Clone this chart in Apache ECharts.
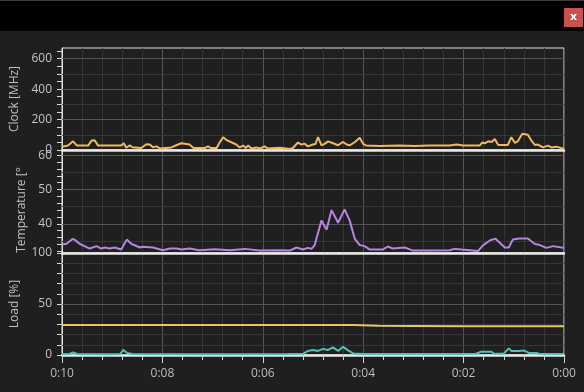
<!DOCTYPE html>
<html>
<head>
<meta charset="utf-8">
<script src="https://cdn.jsdelivr.net/npm/echarts@6/dist/echarts.min.js"></script>
<style>
html,body{margin:0;padding:0;background:#1f1f1f;}
#chart{width:584px;height:392px;}
</style>
</head>
<body>
<div id="chart"></div>
<script>
// ---- data (time in minutes before now) ----
const xTickLabels = ['0:10', '0:08', '0:06', '0:04', '0:02', '0:00'];

const clockTimes = [10.00,9.88,9.78,9.70,9.48,9.41,9.35,9.28,8.82,8.77,8.72,8.65,8.60,8.42,8.32,8.25,8.19,8.12,8.05,7.82,7.69,7.62,7.46,7.38,7.16,7.09,7.04,6.92,6.86,6.79,6.73,6.53,6.46,6.39,6.34,6.29,6.23,6.13,6.06,5.96,5.90,5.66,5.46,5.40,5.30,5.23,5.17,5.10,5.00,4.95,4.90,4.83,4.77,4.70,4.60,4.50,4.40,4.33,4.27,4.17,4.07,4.00,3.94,3.67,3.27,2.97,2.68,2.28,2.14,2.01,1.68,1.63,1.58,1.51,1.44,1.38,1.31,1.12,1.05,0.98,0.92,0.83,0.72,0.65,0.58,0.52,0.42,0.32,0.25,0.15,0.03,0.00];
const clockValues = [22,29,57,29,29,62,64,29,29,44,15,30,18,13,38,36,18,24,10,17,36,44,36,13,13,24,13,13,49,84,67,36,17,29,13,29,10,17,10,24,10,15,7,13,49,35,42,24,36,40,84,31,40,57,44,31,53,36,31,51,80,40,29,27,29,27,29,29,36,29,29,49,44,57,53,73,33,33,84,47,57,107,100,62,33,36,17,29,17,22,10,12];

const tempTimes = [10.00,9.91,9.79,9.75,9.65,9.45,9.31,9.22,9.15,9.05,8.95,8.82,8.71,8.62,8.45,8.39,8.19,7.99,7.85,7.72,7.62,7.46,7.26,6.96,6.66,6.36,6.06,5.66,5.46,5.33,5.20,5.10,5.03,4.97,4.83,4.73,4.63,4.50,4.37,4.27,4.17,4.07,3.97,3.87,3.61,3.51,3.41,3.17,3.01,2.68,2.28,2.18,2.04,1.71,1.61,1.47,1.37,1.28,1.18,1.10,1.02,0.89,0.72,0.58,0.48,0.35,0.22,0.02,0.00];
const tempValues = [34.0,34.2,35.6,35.4,34.2,32.8,33.5,32.8,33.1,32.8,33.1,32.5,35.4,34.2,33.1,33.3,33.1,32.3,32.8,32.8,32.5,32.8,32.3,32.6,32.3,32.7,32.2,32.3,32.2,33.1,32.5,33.0,32.7,33.7,41.0,38.3,44.0,40.3,44.2,41.0,35.7,33.8,33.5,32.5,32.5,33.4,32.8,33.1,32.2,32.2,32.3,32.7,32.5,32.1,33.8,35.2,35.7,34.5,33.1,33.1,35.4,35.7,35.7,34.1,33.8,33.0,33.5,33.0,33.0];

const loadATimes = [10.0,9.0,8.0,7.0,6.0,5.0,4.2,3.7,3.0,2.0,1.0,0.0];
const loadAValues = [29.5,29.4,29.4,29.3,29.3,29.4,29.5,28.6,28.4,28.1,28.2,28.2];

const loadBTimes = [10.0,9.85,9.78,9.70,9.0,8.84,8.78,8.70,8.60,7.0,5.5,5.2,5.1,5.0,4.9,4.8,4.7,4.6,4.5,4.4,4.3,4.2,4.0,2.0,1.75,1.65,1.55,1.45,1.40,1.20,1.10,1.05,0.90,0.80,0.70,0.55,0.50,0.0];
const loadBValues = [1.0,1.0,2.5,1.0,0.8,1.0,5.0,2.0,1.0,0.8,1.0,1.2,4.0,5.0,4.0,6.0,5.0,7.5,4.0,8.0,4.5,1.5,1.0,1.0,1.2,3.3,3.3,3.3,1.5,1.3,6.5,4.0,4.0,4.5,2.0,2.0,1.2,1.0];

// axis values
const clockRange = [0, 670], clockLabels = [0, 200, 400, 600];
const clockTicks = [0,50,100,150,200,250,300,350,400,450,500,550,600,650];
const clockGridMinor = [100, 300, 500], clockGridMajor = [200, 400, 600];
const tempRange = [31.5, 61.5], tempLabels = [40, 50, 60];
const tempTicks = [32,34,36,38,40,42,44,46,48,50,52,54,56,58,60];
const tempGridMinor = [35, 45, 55], tempGridMajor = [40, 50, 60];
const loadRange = [0, 100], loadLabels = [0, 50, 100];
const loadTicks = [0,10,20,30,40,50,60,70,80,90,100];
const loadGridMinor = [10,20,30,40,60,70,80,90], loadGridMajor = [50];

// ---- chart ----
const FONT = 'Open Sans';
const MINOR_GRID = '#363636', MAJOR_GRID = '#555555';
const pairs = (t, v) => t.map((x, i) => [x, v[i]]);
const chart = echarts.init(document.getElementById('chart'), null, {renderer: 'canvas'});

const grids = [
  {left: 62, top: 48, width: 502, height: 102},
  {left: 62, top: 150, width: 502, height: 103},
  {left: 62, top: 253, width: 502, height: 102}
].map(g => Object.assign(g, {show: true, borderColor: '#e2e2e2', borderWidth: 1, backgroundColor: 'transparent', containLabel: false}));

const xAxes = [0, 1, 2].map(i => ({
  type: 'value', gridIndex: i, min: 0, max: 10, interval: 2, inverse: true,
  axisLine: {show: true, onZero: false, lineStyle: {color: '#e8e8e8', width: 2.5}},
  axisTick: {show: i === 2, length: 8, lineStyle: {color: '#d4d4d4', width: 1}},
  minorTick: {show: i === 2, splitNumber: 5, length: 5, lineStyle: {color: '#d4d4d4', width: 1}},
  axisLabel: {show: i === 2, color: '#bdbdbd', fontSize: 12, fontFamily: FONT, margin: 13,
    formatter: v => xTickLabels[5 - Math.round(v / 2)]},
  splitLine: {show: true, lineStyle: {color: MAJOR_GRID, width: 1}},
  minorSplitLine: {show: true, lineStyle: {color: MINOR_GRID, width: 1}}
}));

function yAxisFor(gi, range, labels, ticks, name, nameStyleExtra) {
  return {
    type: 'value', gridIndex: gi, min: range[0], max: range[1], position: 'left',
    name: name, nameLocation: 'middle', nameGap: 34,
    nameTextStyle: Object.assign({color: '#c0c0c0', fontSize: 12, fontFamily: FONT}, nameStyleExtra || {}),
    axisLine: {show: true, onZero: false, lineStyle: {color: '#e2e2e2', width: 1}},
    axisTick: {show: true, customValues: ticks, length: 5, lineStyle: {color: '#d8d8d8', width: 1}},
    axisLabel: {show: true, customValues: labels, color: '#c4c4c4', fontSize: 12, fontFamily: FONT, margin: 10},
    splitLine: {show: false}
  };
}

const yAxes = [
  yAxisFor(0, clockRange, clockLabels, clockTicks, 'Clock [MHz]'),
  yAxisFor(1, tempRange, tempLabels, tempTicks, 'Temperature [°', {padding: [0, 17, 0, 0]}),
  yAxisFor(2, loadRange, loadLabels, loadTicks, 'Load [%]')
];

// horizontal grid lines drawn through each panel's own axes
function gridLineSeries(idx, minorVals, majorVals) {
  const mk = (v, c) => ({yAxis: v, lineStyle: {color: c, width: 1, type: 'solid'}});
  return {
    type: 'line', xAxisIndex: idx, yAxisIndex: idx, data: [], z: 1, silent: true, animation: false,
    markLine: {
      silent: true, symbol: ['none', 'none'], label: {show: false}, animation: false,
      emphasis: {disabled: true},
      data: minorVals.map(v => mk(v, MINOR_GRID)).concat(majorVals.map(v => mk(v, MAJOR_GRID)))
    }
  };
}

const lineSeries = (name, xi, yi, data, color) => ({
  name, type: 'line', xAxisIndex: xi, yAxisIndex: yi, data, showSymbol: false, symbol: 'none',
  smooth: false, animation: false, lineStyle: {color, width: 2}, itemStyle: {color}, z: 5
});

chart.setOption({
  backgroundColor: '#1f1f1f',
  animation: false,
  grid: grids,
  xAxis: xAxes,
  yAxis: yAxes,
  series: [
    gridLineSeries(0, clockGridMinor, clockGridMajor),
    gridLineSeries(1, tempGridMinor, tempGridMajor),
    gridLineSeries(2, loadGridMinor, loadGridMajor),
    lineSeries('Clock', 0, 0, pairs(clockTimes, clockValues), '#f2b85c'),
    lineSeries('Temperature', 1, 1, pairs(tempTimes, tempValues), '#b485e2'),
    lineSeries('Load A', 2, 2, pairs(loadATimes, loadAValues), '#e8c466'),
    lineSeries('Load B', 2, 2, pairs(loadBTimes, loadBValues), '#4ec3b3')
  ],
  graphic: [
    {type: 'rect', left: 0, top: 0, shape: {width: 584, height: 31}, style: {fill: '#000000'}, z: 100},
    {type: 'rect', left: 0, top: 0, shape: {width: 584, height: 1}, style: {fill: '#3a3a3a'}, z: 101},
    {type: 'rect', left: 564, top: 8, shape: {width: 19, height: 19}, style: {fill: '#c85250'}, z: 101},
    {type: 'text', x: 573.5, y: 17, style: {text: 'x', fill: '#ffffff', font: 'bold 11px "DejaVu Sans"', align: 'center', verticalAlign: 'middle'}, z: 102}
  ]
});
</script>
</body>
</html>
